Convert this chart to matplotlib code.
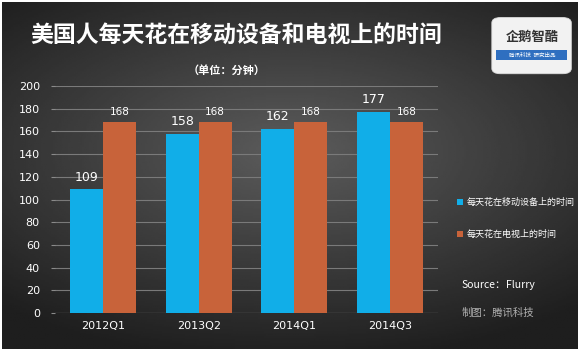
import matplotlib.pyplot as plt
import numpy as np
from matplotlib.patches import FancyBboxPatch, Rectangle

plt.rcParams['font.family'] = ['Noto Sans CJK SC', 'DejaVu Sans']

quarters = ['2012Q1', '2013Q2', '2014Q1', '2014Q3']
mobile = [109, 158, 162, 177]
tv = [168, 168, 168, 168]
mobile_label = '每天花在移动设备上的时间'
tv_label = '每天花在电视上的时间'

blue = '#11aee8'
orange = '#c8633a'

fig = plt.figure(figsize=(5.8, 3.51), dpi=100)
fig.patch.set_facecolor('white')

# dark radial background
bg = fig.add_axes([0.004, 0.006, 0.992, 0.988])
yy, xx = np.mgrid[-1:1:200j, -1:1:300j]
r = np.sqrt((xx * 0.9) ** 2 + (yy * 1.1 + 0.15) ** 2)
shade = np.clip(0.36 - 0.18 * r, 0.12, 0.4)
bg.imshow(shade, cmap='gray', vmin=0, vmax=1, aspect='auto', extent=[0, 1, 0, 1])
bg.set_axis_off()

ax = fig.add_axes([0.095, 0.108, 0.66, 0.647])
ax.set_facecolor('none')
x = np.arange(len(quarters))
w = 0.345
b1 = ax.bar(x - w / 2, mobile, w, color=blue, label=mobile_label, zorder=3)
b2 = ax.bar(x + w / 2, tv, w, color=orange, label=tv_label, zorder=3)
for rect, v in zip(b1, mobile):
    ax.text(rect.get_x() + rect.get_width() / 2, v + 5, str(v), ha='center', va='bottom',
            color='white', fontsize=9, family='DejaVu Sans')
for rect, v in zip(b2, tv):
    ax.text(rect.get_x() + rect.get_width() / 2, v + 5, str(v), ha='center', va='bottom',
            color='white', fontsize=7.5, family='DejaVu Sans')

ax.set_xlim(-0.5, 3.5)
ax.set_ylim(0, 200)
ax.set_yticks(range(0, 201, 20))
ax.set_xticks(x)
ax.set_xticklabels(quarters)
ax.grid(axis='y', color='#7a7a7a', linewidth=0.8, zorder=0)
for s in ax.spines.values():
    s.set_visible(False)
ax.tick_params(axis='y', colors='#8a8a8a', labelcolor='white', labelsize=8, length=3, width=0.8, pad=8)
ax.tick_params(axis='x', length=0, labelcolor='white', labelsize=8, pad=6)
for lab in ax.get_yticklabels() + ax.get_xticklabels():
    lab.set_family('DejaVu Sans')
ax.axhline(0, color='#8a8a8a', linewidth=0.8, zorder=1)

leg = fig.legend(handles=[b1, b2], loc='upper left', bbox_to_anchor=(0.782, 0.446),
                 frameon=False, fontsize=6.5, labelspacing=2.5, handlelength=0.7,
                 handleheight=0.7, handletextpad=0.3, borderaxespad=0)
for t in leg.get_texts():
    t.set_color('white')

fig.text(0.795, 0.188, 'Source：', color='white', fontsize=7.5, ha='left', va='center')
fig.text(0.873, 0.188, 'Flurry', color='white', fontsize=7.5, ha='left', va='center', style='italic')
fig.text(0.795, 0.11, '制图：腾讯科技', color='#b0b0b0', fontsize=7.5, ha='left', va='center', style='italic')

fig.text(0.408, 0.9, '美国人每天花在移动设备和电视上的时间', color='white', fontsize=16.5,
         ha='center', va='center', weight='bold')
fig.text(0.39, 0.8, '（单位：分钟）', color='white', fontsize=8, ha='center', va='center', weight='bold')

# logo box
logo = FancyBboxPatch((0.848, 0.79), 0.137, 0.16, boxstyle='round,pad=0,rounding_size=0.015',
                      transform=fig.transFigure, facecolor='#f2f2f2', edgecolor='#dddddd',
                      linewidth=0.6, zorder=5)
fig.patches.append(logo)
fig.text(0.917, 0.895, '企鹅智酷', color='#333333', fontsize=9.5, ha='center', va='center',
         weight='bold', zorder=6)
fig.patches.append(Rectangle((0.856, 0.828), 0.122, 0.03, transform=fig.transFigure,
                             facecolor='#2f6fc0', edgecolor='none', zorder=6))
fig.text(0.917, 0.843, '腾讯科技  研究出品', color='white', fontsize=4, ha='center', va='center',
         style='italic', zorder=7)

fig.savefig('out.png', dpi=100, facecolor=fig.get_facecolor())
